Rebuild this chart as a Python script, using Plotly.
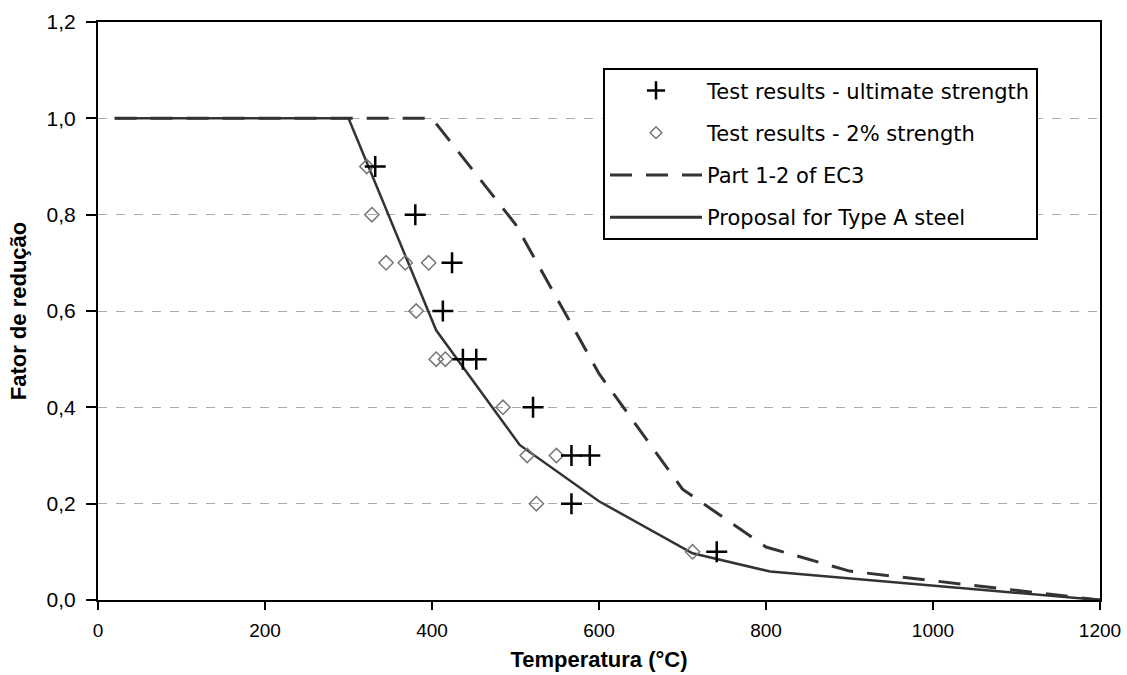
import plotly.graph_objects as go

# Proposal for Type A steel (solid)
prop_T = [20, 300, 405, 505, 600, 712, 805, 1000, 1200]
prop_k = [1.0, 1.0, 0.56, 0.322, 0.205, 0.097, 0.059, 0.03, 0.0]

# Part 1-2 of EC3 (dashed)
ec3_T = [20, 400, 500, 600, 700, 800, 900, 1000, 1100, 1200]
ec3_k = [1.0, 1.0, 0.78, 0.47, 0.23, 0.11, 0.06, 0.04, 0.02, 0.0]

# Test results - ultimate strength (+)
ult_T = [332, 380, 424, 413, 437, 453, 521, 567, 589, 567, 741]
ult_k = [0.9, 0.8, 0.7, 0.6, 0.5, 0.5, 0.4, 0.3, 0.3, 0.2, 0.1]

# Test results - 2% strength (diamonds)
s2_T = [322, 328, 345, 368, 396, 381, 405, 416, 485, 514, 549, 525, 712]
s2_k = [0.9, 0.8, 0.7, 0.7, 0.7, 0.6, 0.5, 0.5, 0.4, 0.3, 0.3, 0.2, 0.1]

x_ticks = [0, 200, 400, 600, 800, 1000, 1200]
y_ticks = [0.0, 0.2, 0.4, 0.6, 0.8, 1.0, 1.2]

fig = go.Figure()
fig.add_trace(go.Scatter(x=prop_T, y=prop_k, mode="lines", name="Proposal for Type A steel",
                         line=dict(color="#333333", width=2.5), showlegend=False))
fig.add_trace(go.Scatter(x=ec3_T, y=ec3_k, mode="lines", name="Part 1-2 of EC3",
                         line=dict(color="#333333", width=3, dash="22px,14px"), showlegend=False))
fig.add_trace(go.Scatter(x=s2_T, y=s2_k, mode="markers", name="Test results - 2% strength",
                         marker=dict(symbol="diamond-open", size=11, color="#777777",
                                     line=dict(width=1.5, color="#777777")), showlegend=False))
fig.add_trace(go.Scatter(x=ult_T, y=ult_k, mode="markers", name="Test results - ultimate strength",
                         marker=dict(symbol="cross-thin-open", size=15, color="black",
                                     line=dict(width=2.5, color="black")), showlegend=False))

# legend entries (in reference order)
fig.add_trace(go.Scatter(x=[None], y=[None], mode="markers", name="Test results - ultimate strength",
                         legendgroup="a",
                         marker=dict(symbol="cross-thin-open", size=13, color="black",
                                     line=dict(width=2.5, color="black"))))
fig.add_trace(go.Scatter(x=[None], y=[None], mode="markers", name="Test results - 2% strength",
                         legendgroup="b",
                         marker=dict(symbol="diamond-open", size=9, color="#777777",
                                     line=dict(width=1.5, color="#777777"))))
fig.add_trace(go.Scatter(x=[None], y=[None], mode="lines", name="Part 1-2 of EC3",
                         legendgroup="c",
                         line=dict(color="#333333", width=3, dash="22px,14px")))
fig.add_trace(go.Scatter(x=[None], y=[None], mode="lines", name="Proposal for Type A steel",
                         legendgroup="d",
                         line=dict(color="#333333", width=3)))

fig.update_layout(
    width=1127, height=675,
    margin=dict(l=98, r=27, t=22, b=75),
    paper_bgcolor="white", plot_bgcolor="white",
    separators=",.",
    font=dict(family="Liberation Sans, Arial, sans-serif", size=19, color="black"),
    legend=dict(x=0.504, y=0.92, xanchor="left", yanchor="top",
                bordercolor="black", borderwidth=2, bgcolor="white",
                font=dict(size=21, family="DejaVu Sans, sans-serif"),
                tracegroupgap=12, itemwidth=92),
)
fig.update_xaxes(range=[0, 1200], tickvals=x_ticks, showgrid=False, automargin=False,
                 showline=True, linecolor="black", linewidth=2, mirror=True,
                 ticks="outside", ticklen=8, tickwidth=1.5, tickcolor="black",
                 ticklabelstandoff=4,
                 zeroline=False,
                 title=dict(text="<b>Temperatura (°C)</b>", font=dict(size=22), standoff=12))
fig.update_yaxes(range=[0, 1.2], tickvals=y_ticks, tickformat=".1f", automargin=False,
                 showgrid=True, gridcolor="#aaaaaa", griddash="dash", gridwidth=1,
                 showline=True, linecolor="black", linewidth=2, mirror=True,
                 ticks="outside", ticklen=10, tickwidth=1.5, tickcolor="black",
                 tickfont=dict(size=21), ticklabelstandoff=6,
                 zeroline=False,
                 title=dict(text="<b>Fator de redução</b>", font=dict(size=22), standoff=14))

fig.write_html("out.html")
